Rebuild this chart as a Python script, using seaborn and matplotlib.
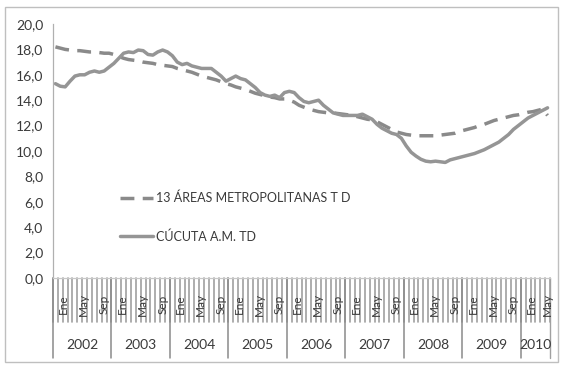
import numpy as np
import pandas as pd
import matplotlib
matplotlib.use("Agg")
import matplotlib.pyplot as plt
from matplotlib.patches import Rectangle
import seaborn as sns

# Monthly unemployment rate (TD, %), Jan 2002 - Jun 2010
years = ["2002", "2003", "2004", "2005", "2006", "2007", "2008", "2009", "2010"]
months_per_year = [12, 12, 12, 12, 12, 12, 12, 12, 6]
month_labels = ["Ene", "May", "Sep"]

td_13_areas = [
    18.2, 18.1, 18.0, 17.95, 17.9, 17.9, 17.85, 17.8, 17.8, 17.75, 17.7, 17.7,
    17.6, 17.45, 17.3, 17.2, 17.15, 17.1, 17.0, 16.95, 16.9, 16.8, 16.75, 16.7,
    16.65, 16.5, 16.4, 16.3, 16.2, 16.05, 15.9, 15.8, 15.7, 15.6, 15.45, 15.3,
    15.2, 15.05, 14.95, 14.85, 14.7, 14.55, 14.45, 14.35, 14.25, 14.2, 14.1, 14.1,
    14.0, 13.85, 13.6, 13.45, 13.3, 13.2, 13.1, 13.05, 13.0, 13.0, 12.95, 12.9,
    12.85, 12.8, 12.7, 12.6, 12.5, 12.45, 12.3, 12.1, 11.9, 11.7, 11.5, 11.4,
    11.3, 11.25, 11.2, 11.2, 11.2, 11.2, 11.2, 11.25, 11.3, 11.35, 11.4, 11.55,
    11.65, 11.75, 11.85, 12.0, 12.1, 12.25, 12.4, 12.5, 12.6, 12.7, 12.8, 12.85,
    12.95, 13.05, 13.1, 13.2, 13.3, 12.8,
]
td_cucuta = [
    15.3, 15.1, 15.05, 15.5, 15.9, 16.0, 16.0, 16.2, 16.3, 16.2, 16.3, 16.6,
    16.9, 17.3, 17.7, 17.8, 17.75, 17.95, 17.9, 17.6, 17.55, 17.8, 17.95, 17.8,
    17.5, 17.0, 16.8, 16.9, 16.7, 16.6, 16.5, 16.5, 16.5, 16.2, 15.9, 15.5,
    15.7, 15.9, 15.7, 15.6, 15.3, 15.0, 14.6, 14.4, 14.3, 14.4, 14.2, 14.6,
    14.7, 14.6, 14.2, 13.9, 13.8, 13.9, 14.0, 13.6, 13.3, 13.0, 12.9, 12.8,
    12.8, 12.8, 12.8, 12.9, 12.7, 12.5, 12.1, 11.8, 11.6, 11.4, 11.3, 11.0,
    10.4, 9.9, 9.6, 9.35, 9.2, 9.15, 9.2, 9.15, 9.1, 9.3, 9.4, 9.5,
    9.6, 9.7, 9.8, 9.95, 10.1, 10.3, 10.5, 10.7, 11.0, 11.3, 11.7, 12.0,
    12.3, 12.6, 12.8, 13.0, 13.2, 13.4,
]
label_13 = "13 ÁREAS METROPOLITANAS T D"
label_cucuta = "CÚCUTA A.M. TD"

sns.set_style("white")
plt.rcParams["font.family"] = ["Lato", "DejaVu Sans"]

n = len(td_cucuta)
df = pd.DataFrame({
    "mes": np.arange(n),
    label_13: td_13_areas,
    label_cucuta: td_cucuta,
})

fig = plt.figure(figsize=(5.62, 3.67), dpi=100)
ax = fig.add_axes([53 / 562, 1 - 278 / 367, 497 / 562, 254 / 367])

line_col = "#8a8a8a"
sns.lineplot(data=df, x="mes", y=label_13, ax=ax, color=line_col, lw=2.5,
             label=label_13)
ax.lines[-1].set_dashes((4.0, 2.4))
sns.lineplot(data=df, x="mes", y=label_cucuta, ax=ax, color="#959595", lw=2.5,
             label=label_cucuta)

ax.set_xlim(-0.5, n - 0.5)
ax.set_ylim(0, 20)
ax.set_yticks(np.arange(0, 21, 2))
ax.set_yticklabels([f"{v:.1f}".replace(".", ",") for v in np.arange(0, 21, 2)],
                   fontsize=10, color="#3a3a3a")
ax.tick_params(axis="y", length=4, width=0.8, color="#a0a0a0", direction="out", pad=3)
ax.set_xticks([])
ax.set_xlabel("")
ax.set_ylabel("")
for s in ["top", "right"]:
    ax.spines[s].set_visible(False)
ax.spines["left"].set_color("#b0b0b0")
ax.spines["bottom"].set_color("#c8c8c8")
ax.spines["left"].set_linewidth(0.9)
ax.spines["bottom"].set_linewidth(0.9)

# Category axis: month ticks, rotated month labels and year groups
tick_depth = -3.45
year_depth = -6.3
for i in range(n + 1):
    ax.plot([i - 0.5, i - 0.5], [0, tick_depth], color="#a0a0a0", lw=1.2,
            clip_on=False, zorder=1)
start = 0
for yr, cnt in zip(years, months_per_year):
    x0 = start - 0.5
    ax.plot([x0, x0], [0, year_depth], color="#8a8a8a", lw=1.1, clip_on=False)
    for lab, off in zip(month_labels, [2.2, 6.3, 10.5]):
        if off > cnt + 1:
            continue
        xl = min(x0 + off, n - 1.1)
        ax.text(xl, -2.1, lab, rotation=90, ha="center", va="center",
                fontsize=8.5, color="#3a3a3a", clip_on=False)
    ax.text(x0 + cnt / 2, -5.25, yr, ha="center", va="center", fontsize=10,
            color="#3a3a3a", clip_on=False)
    start += cnt
ax.plot([n - 0.5, n - 0.5], [0, year_depth], color="#a0a0a0", lw=1.0, clip_on=False)

leg = ax.legend(loc="upper left", bbox_to_anchor=(0.125, 0.36), frameon=False,
                fontsize=9, labelspacing=2.1, handlelength=2.6,
                handletextpad=0.3, borderaxespad=0)
for t in leg.get_texts():
    t.set_color("#3a3a3a")

fig.patches.append(Rectangle((5 / 562, 1 - 362 / 367), 553 / 562, 355 / 367,
                             transform=fig.transFigure, fill=False,
                             edgecolor="#bfbfbf", lw=1.0))

fig.savefig("out.png", dpi=100)
